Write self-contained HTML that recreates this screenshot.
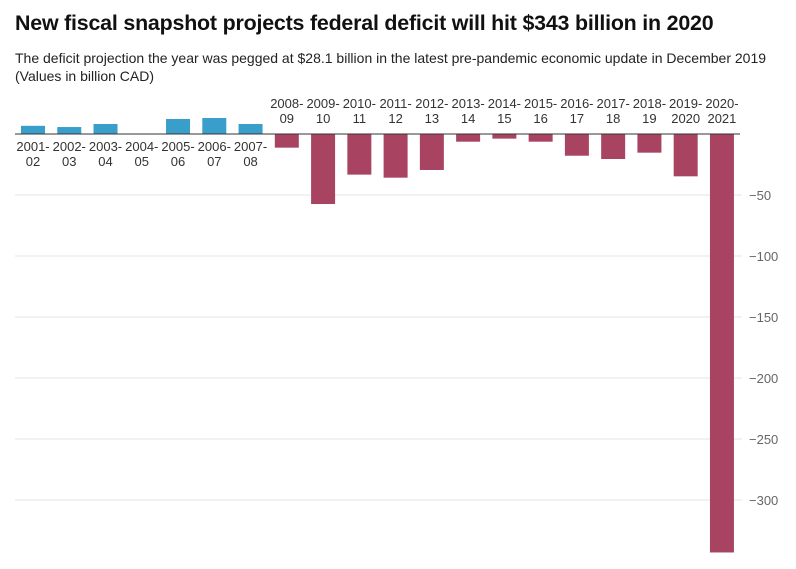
<!DOCTYPE html>
<html><head><meta charset="utf-8"><style>
body{margin:0;background:#fff;font-family:"Liberation Sans",sans-serif;}
#title{position:absolute;left:15px;top:11px;font-size:21.4px;font-weight:bold;color:#111;margin:0;letter-spacing:-0.2px}
#sub{position:absolute;left:15px;top:49px;font-size:14px;color:#222;line-height:18px;}
svg{position:absolute;left:0;top:0}
</style></head><body>
<h1 id="title">New fiscal snapshot projects federal deficit will hit $343 billion in 2020</h1>
<div id="sub">The deficit projection the year was pegged at $28.1 billion in the latest pre-pandemic economic update in December 2019<br>(Values in billion CAD)</div>
<svg id="chart" width="796" height="569" xmlns="http://www.w3.org/2000/svg"></svg>
<script>
const categories=[["2001-","02"],["2002-","03"],["2003-","04"],["2004-","05"],["2005-","06"],["2006-","07"],["2007-","08"],["2008-","09"],["2009-","10"],["2010-","11"],["2011-","12"],["2012-","13"],["2013-","14"],["2014-","15"],["2015-","16"],["2016-","17"],["2017-","18"],["2018-","19"],["2019-","2020"],["2020-","2021"]];
const values=[6.7,5.7,8.2,0,12.3,13.1,8.2,-11.2,-57.4,-33.3,-35.8,-29.5,-6.3,-3.8,-6.3,-17.8,-20.5,-15.3,-34.7,-343];
const ticks=[-50,-100,-150,-200,-250,-300];
const tickLabels=["−50","−100","−150","−200","−250","−300"];
const NS="http://www.w3.org/2000/svg";
const svg=document.getElementById('chart');
const y=v=>134-v*1.22;
const x=i=>21+i*36.26;
const bw=24;
function mk(t,a){const e=document.createElementNS(NS,t);for(const k in a)e.setAttribute(k,a[k]);svg.appendChild(e);return e;}
ticks.forEach((t,i)=>{
  const l=mk('line',{x1:15,x2:742,y1:y(t),y2:y(t),stroke:'#e6e6e6','stroke-width':1});
  
  
  const tx=mk('text',{x:749,y:y(t)+5,'font-size':13,fill:'#666','font-family':'Liberation Sans, sans-serif'});
  tx.textContent=tickLabels[i];
  
  
});
values.forEach((v,i)=>{
  const top=v>=0?y(v):y(0), h=Math.abs(y(v)-y(0));
  const r=mk('rect',{x:x(i),y:top,width:bw,height:h,fill:v>=0?'#3a9ecb':'#a84462'});
  
  
  const cx=x(i)+bw/2;
  const base=v>=0?151:108;
  categories[i].forEach((s,j)=>{
    const t=mk('text',{x:cx,y:base+j*15,'font-size':13,fill:'#333','text-anchor':'middle','font-family':'Liberation Sans, sans-serif'});
    t.textContent=s;
    
    
  });
});
const ax=mk('line',{x1:15,x2:740,y1:y(0),y2:y(0),stroke:'#333','stroke-width':1});


</script>
</body></html>
